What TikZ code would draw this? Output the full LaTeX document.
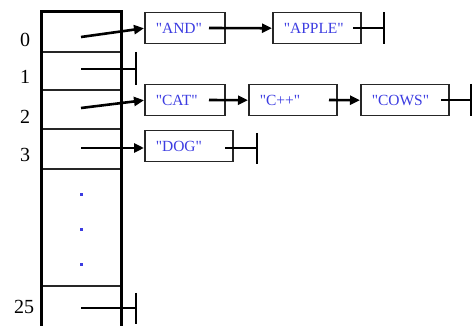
\documentclass[tikz,border=0pt]{standalone}
\usepackage{fontspec}
\setmainfont{Liberation Serif}
\newfontfamily\boxfont{Liberation Serif}
\usetikzlibrary{arrows.meta}
\definecolor{txtblue}{RGB}{60,60,225}
\begin{document}
\begin{tikzpicture}[x=1pt,y=-1pt,
  ptr/.style={line width=2.6pt,-{Triangle[length=10pt,width=9pt]}},
  nil/.style={line width=2.6pt},
  strbox/.style={draw=black!85,line width=1.5pt,rectangle,anchor=north west,minimum height=31pt,
     inner xsep=11pt,inner ysep=0pt,align=left,font=\boxfont\fontsize{15.5}{16}\selectfont,text=txtblue},
  idx/.style={font=\fontsize{20}{21}\selectfont,anchor=center},
  dotmark/.style={fill=txtblue,inner sep=0pt,minimum size=3pt}]
\useasboundingbox (0,0) rectangle (472,326);
% table
\draw[line width=1.1pt,black!85] (41,52) -- (121,52) (41,90) -- (121,90) (41,129) -- (121,129)
  (41,169) -- (121,169) (41,286) -- (121,286);
\draw[line width=3pt] (41,330) -- (41,12) -- (121,12) -- (121,330);
% indices
\node[idx] (i0) at (25,40) {0};
\node[idx] (i1) at (25,77) {1};
\node[idx] (i2) at (25,117) {2};
\node[idx] (i3) at (25,155) {3};
\node[idx] (i25) at (24,307) {25};
% dots
\node[dotmark] (d1) at (81,195) {};
\node[dotmark] (d2) at (81,230) {};
\node[dotmark] (d3) at (81,265) {};
% boxes
\node[strbox,text width=58pt] (and) at (144,12) {"AND"};
\node[strbox,text width=66pt] (apple) at (272,12) {"APPLE"};
\node[strbox,text width=58pt] (cat) at (144,84) {"CAT"};
\node[strbox,text width=66pt] (cpp) at (248,84) {"C++"};
\node[strbox,text width=66pt] (cows) at (360,84) {"COWS"};
\node[strbox,text width=66pt] (dog) at (144,130) {"DOG"};
% slot pointer starts
\coordinate (s0) at (81,37);
\coordinate (s1) at (81,69);
\coordinate (s2) at (81,108);
\coordinate (s3) at (81,148);
\coordinate (s25) at (81,308);
% pointers
\draw[ptr] (s0) -- (and.west);
\draw[ptr] (s2) -- (cat.west);
\draw[ptr] (s3) -- (s3 -| dog.west);
\coordinate (a1) at (209,28);
\draw[ptr] (a1) -- (apple.west);
\coordinate (c1) at (209,100);
\draw[ptr] (c1) -- (cpp.west);
\coordinate (c2) at (329,100);
\draw[ptr] (c2) -- (cows.west);
% nil terminators
\coordinate (n1) at (136,69);
\draw[nil] (s1) -- (n1) (136,52) -- (136,85);
\coordinate (n25) at (136,308);
\draw[nil] (s25) -- (n25) (136,293) -- (136,324);
\coordinate (ap1) at (353,28);
\coordinate (ap2) at (384,28);
\draw[nil] (ap1) -- (ap2) (384,12.5) -- (384,44);
\coordinate (dg1) at (225,148);
\coordinate (dg2) at (257,148);
\draw[nil] (dg1) -- (dg2) (257,133) -- (257,164);
\coordinate (cw1) at (441,100);
\coordinate (cw2) at (471,100);
\draw[nil] (cw1) -- (cw2) (471,84) -- (471,116);
\end{tikzpicture}
\end{document}
